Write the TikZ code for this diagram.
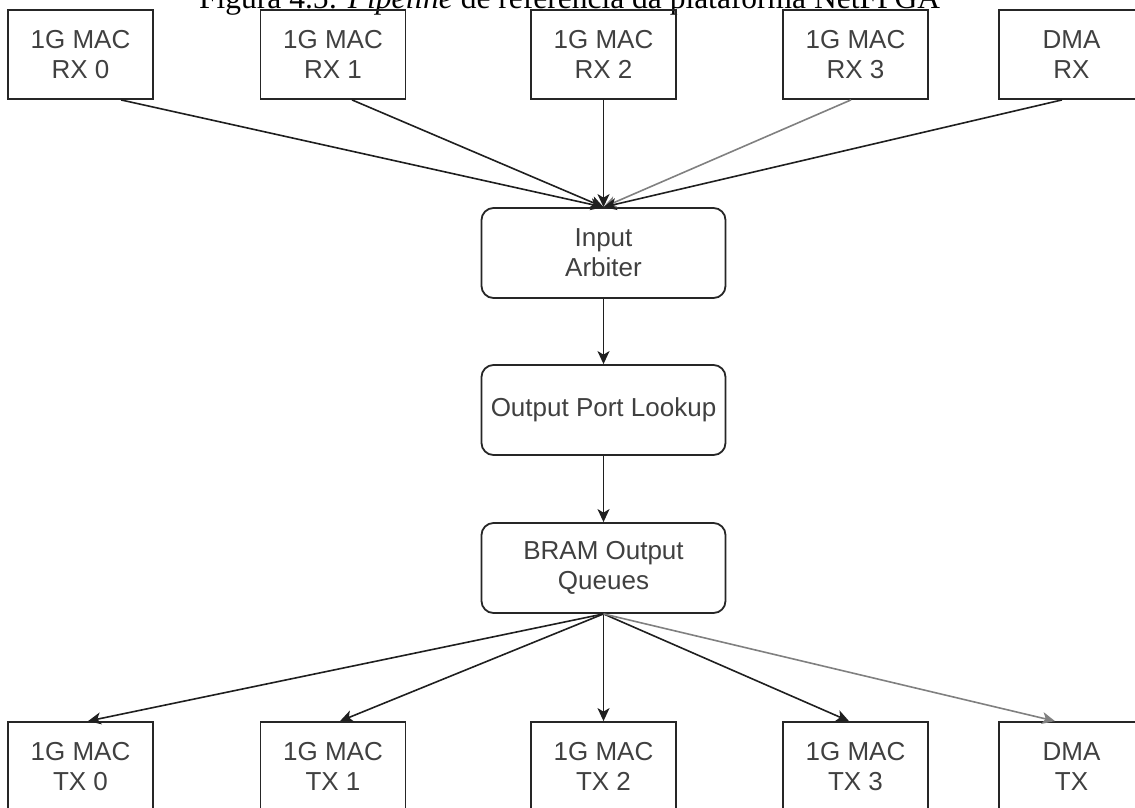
\documentclass[tikz,border=0pt]{standalone}
\usepackage{fontspec}
\setmainfont{Liberation Sans}
\newfontfamily\capfont{Liberation Serif}
\usetikzlibrary{arrows.meta}
\begin{document}
\begin{tikzpicture}[x=1pt,y=-1pt,
  box/.style={draw=black!85, line width=1.8pt, minimum width=145pt, minimum height=89pt,
    align=center, inner sep=0pt, font=\fontsize{26}{30}\selectfont, text=black!75},
  rbox/.style={box, minimum width=244pt, minimum height=90pt, rounded corners=12pt},
  conn/.style={line width=1.6pt, draw=black!88, -{Stealth[length=13pt,width=12pt,inset=3.5pt]}},
  lconn/.style={conn, draw=black!50},
]
\useasboundingbox (0,0) rectangle (1135,807);
\clip (0,0) rectangle (1135,807);

% caption (cut at top, as in the reference)
\node[anchor=base west, inner sep=0pt, font=\capfont\fontsize{31.5}{36}\selectfont] (cap) at (199,8)
  {Figura 4.5: \textit{Pipeline} de referência da plataforma NetFPGA};

% top row
\node[box] (rx0) at (80.5,54.5) {1G MAC\\RX 0};
\node[box] (rx1) at (333,54.5) {1G MAC\\RX 1};
\node[box] (rx2) at (603.5,54.5) {1G MAC\\RX 2};
\node[box] (rx3) at (855.5,54.5) {1G MAC\\RX 3};
\node[box] (dmarx) at (1071.5,54.5) {DMA\\RX};

% middle
\node[rbox] (arb) at (603.5,253) {Input\\Arbiter};
\node[rbox] (opl) at (603.5,410) {Output Port Lookup};
\node[rbox] (bram) at (603.5,568) {BRAM Output\\Queues};

% bottom row
\node[box] (tx0) at (80.5,766.5) {1G MAC\\TX 0};
\node[box] (tx1) at (333,766.5) {1G MAC\\TX 1};
\node[box] (tx2) at (603.5,766.5) {1G MAC\\TX 2};
\node[box] (tx3) at (855.5,766.5) {1G MAC\\TX 3};
\node[box] (dmatx) at (1071.5,766.5) {DMA\\TX};

% top connectors
\draw[conn] ([xshift=40.5pt]rx0.south) -- (arb.north);
\draw[conn] ([xshift=19pt]rx1.south) -- (arb.north);
\draw[conn] (rx2.south) -- (arb.north);
\draw[lconn] ([xshift=-4.5pt]rx3.south) -- (arb.north);
\draw[conn] ([xshift=-9.5pt]dmarx.south) -- (arb.north);

% middle connectors
\draw[conn] (arb.south) -- (opl.north);
\draw[conn] (opl.south) -- (bram.north);

% bottom connectors
\draw[conn] (bram.south) -- ([xshift=7.5pt]tx0.north);
\draw[conn] (bram.south) -- ([xshift=7pt]tx1.north);
\draw[conn] (bram.south) -- (tx2.north);
\draw[conn] (bram.south) -- ([xshift=-6.5pt]tx3.north);
\draw[lconn] (bram.south) -- ([xshift=-16.5pt]dmatx.north);
\end{tikzpicture}
\end{document}
